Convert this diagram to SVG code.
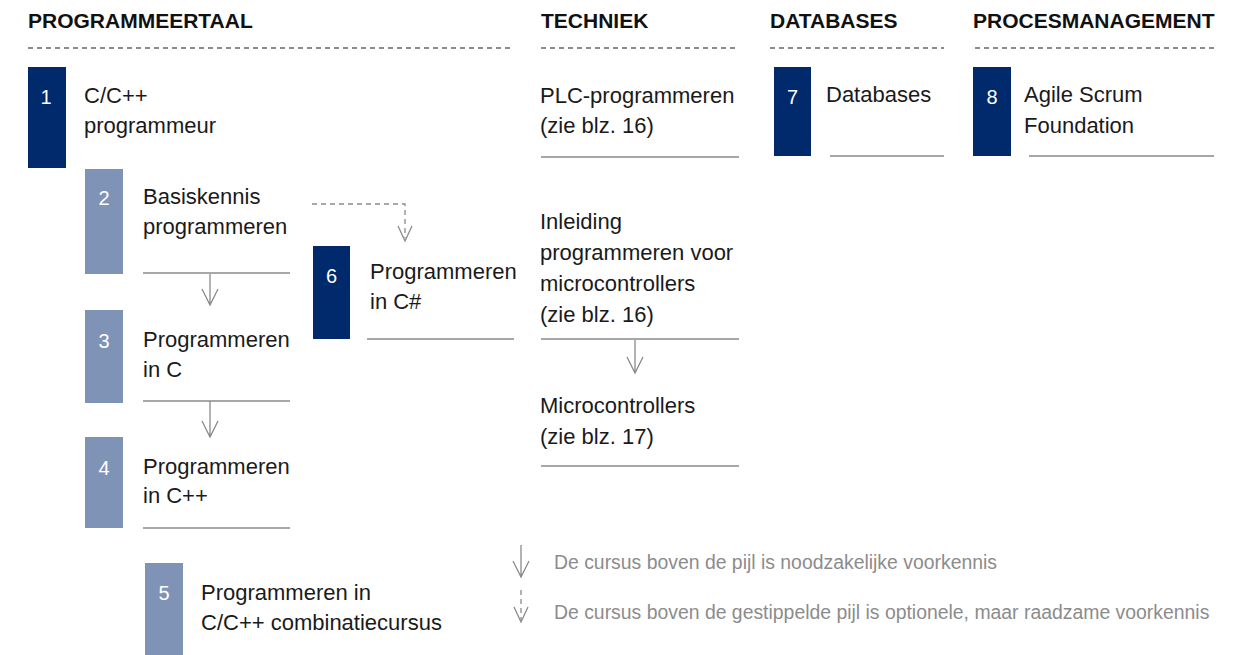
<svg xmlns="http://www.w3.org/2000/svg" width="1246" height="655" viewBox="0 0 1246 655">
<style>
text{font-family:"Liberation Sans",Arial,sans-serif}
.hd{font-size:21px;font-weight:bold;fill:#111}
.dash{stroke:#8c8c8c;stroke-width:2;stroke-dasharray:5,4;fill:none}
.dark{fill:#002a6c}
.light{fill:#7f93b6}
.num{font-size:20px;fill:#fff;text-anchor:middle}
.lbl{font-size:22px;fill:#1a1a1a}
.rule{stroke:#8a8a8a;stroke-width:1.5}
.arr{stroke:#8a8a8a;stroke-width:1.3;fill:none}
.arrd{stroke:#8a8a8a;stroke-width:1.3;fill:none;stroke-dasharray:5,4}
.leg{font-size:19.4px;fill:#8c8c8c}
</style>
<rect width="1246" height="655" fill="#fff"/>
<g id="headers">
<text class="hd" x="28" y="28">PROGRAMMEERTAAL</text>
<line class="dash" x1="28" y1="48" x2="512" y2="48"/>
<text class="hd" x="541" y="28">TECHNIEK</text>
<line class="dash" x1="541" y1="48" x2="739" y2="48"/>
<text class="hd" x="770" y="28">DATABASES</text>
<line class="dash" x1="770" y1="48" x2="944" y2="48"/>
<text class="hd" x="973" y="28">PROCESMANAGEMENT</text>
<line class="dash" x1="975" y1="48" x2="1214" y2="48"/>
</g>
<g id="node1">
<rect class="dark" x="28" y="67" width="38" height="101"/>
<text class="num" x="46" y="104">1</text>
<text class="lbl" x="84" y="103">C/C++</text>
<text class="lbl" x="84" y="133">programmeur</text>
</g>
<g id="node2">
<rect class="light" x="85" y="169" width="38" height="105"/>
<text class="num" x="104" y="205">2</text>
<text class="lbl" x="143" y="204">Basiskennis</text>
<text class="lbl" x="143" y="234">programmeren</text>
<line class="rule" x1="143" y1="273" x2="290" y2="273"/>
</g>
<g id="node3">
<rect class="light" x="85" y="310" width="38" height="93"/>
<text class="num" x="104" y="348">3</text>
<text class="lbl" x="143" y="347">Programmeren</text>
<text class="lbl" x="143" y="377">in C</text>
<line class="rule" x1="143" y1="401" x2="290" y2="401"/>
</g>
<g id="node4">
<rect class="light" x="85" y="437" width="38" height="91"/>
<text class="num" x="104" y="475">4</text>
<text class="lbl" x="143" y="474">Programmeren</text>
<text class="lbl" x="143" y="503">in C++</text>
<line class="rule" x1="143" y1="528" x2="290" y2="528"/>
</g>
<g id="node5">
<rect class="light" x="145" y="563" width="38" height="92"/>
<text class="num" x="164" y="600">5</text>
<text class="lbl" x="201" y="600">Programmeren in</text>
<text class="lbl" x="201" y="630">C/C++ combinatiecursus</text>
</g>
<g id="node6">
<rect class="dark" x="313" y="246" width="37" height="93"/>
<text class="num" x="331.5" y="283">6</text>
<text class="lbl" x="370" y="279">Programmeren</text>
<text class="lbl" x="370" y="309">in C#</text>
<line class="rule" x1="367" y1="339" x2="514" y2="339"/>
</g>
<g id="plc">
<text class="lbl" x="540" y="103">PLC-programmeren</text>
<text class="lbl" x="540" y="133">(zie blz. 16)</text>
<line class="rule" x1="541" y1="157" x2="739" y2="157"/>
</g>
<g id="inleiding">
<text class="lbl" x="540" y="229">Inleiding</text>
<text class="lbl" x="540" y="260">programmeren voor</text>
<text class="lbl" x="540" y="291">microcontrollers</text>
<text class="lbl" x="540" y="322">(zie blz. 16)</text>
<line class="rule" x1="541" y1="339" x2="739" y2="339"/>
</g>
<g id="micro">
<text class="lbl" x="540" y="413">Microcontrollers</text>
<text class="lbl" x="540" y="444">(zie blz. 17)</text>
<line class="rule" x1="541" y1="466" x2="739" y2="466"/>
</g>
<g id="node7">
<rect class="dark" x="774" y="67" width="37" height="89"/>
<text class="num" x="792.5" y="104">7</text>
<text class="lbl" x="826" y="102">Databases</text>
<line class="rule" x1="830" y1="156" x2="944" y2="156"/>
</g>
<g id="node8">
<rect class="dark" x="973" y="67" width="38" height="89"/>
<text class="num" x="992" y="104">8</text>
<text class="lbl" x="1024" y="102">Agile Scrum</text>
<text class="lbl" x="1024" y="133">Foundation</text>
<line class="rule" x1="1029" y1="156" x2="1214" y2="156"/>
</g>
<g id="connectors">
<path class="arr" d="M210 274V305M202 289L210 305L218 289"/>
<path class="arr" d="M210 401V437M202 421L210 437L218 421"/>
<path class="arr" d="M635 340V373M627 357L635 373L643 357"/>
<path class="arrd" d="M312 204H405V238"/>
<path class="arr" d="M398 226L405 241L412 226"/>
</g>
<g id="legend">
<path class="arr" d="M521 545V577M513 561L521 577L529 561"/>
<path class="arrd" d="M521 590V620"/>
<path class="arr" d="M514 607L521 622L528 607"/>
<text class="leg" x="554" y="569">De cursus boven de pijl is noodzakelijke voorkennis</text>
<text class="leg" x="554" y="619">De cursus boven de gestippelde pijl is optionele, maar raadzame voorkennis</text>
</g>
</svg>
